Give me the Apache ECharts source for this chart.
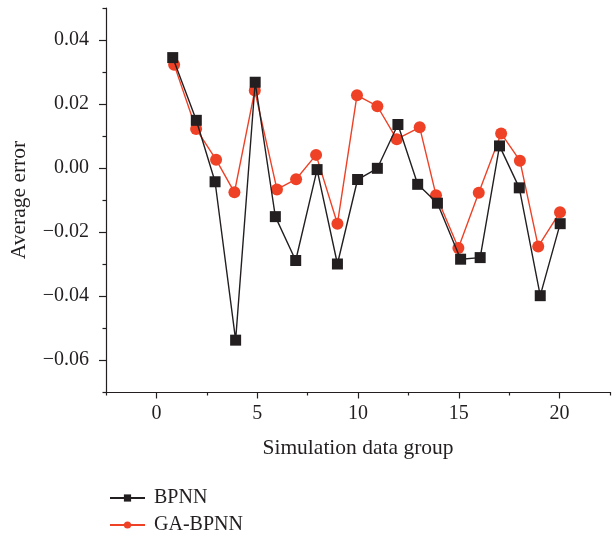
<!DOCTYPE html>
<html><head><meta charset="utf-8">
<script src="https://cdn.jsdelivr.net/npm/echarts@6/dist/echarts.min.js"></script>
<style>html,body{margin:0;padding:0;background:#fff}#c{width:613px;height:539px}</style>
</head><body><div id="c"></div>
<script>
const seriesNames = ['BPNN', 'GA-BPNN'];
const bpnnX = [0.81, 1.98, 2.91, 3.93, 4.9, 5.9, 6.91, 7.97, 8.98, 9.98, 10.96, 11.98, 12.96, 13.94, 15.09, 16.06, 17.02, 18.0, 19.04, 20.03];
const bpnnY = [0.0345, 0.0149, -0.0043, -0.0538, 0.0268, -0.0152, -0.0289, -0.0005, -0.0300, -0.0036, -0.0001, 0.0136, -0.0051, -0.0110, -0.0285, -0.0280, 0.0069, -0.0062, -0.0399, -0.0174];
const gaX = [0.88, 1.97, 2.96, 3.87, 4.88, 5.98, 6.93, 7.92, 8.98, 9.95, 10.96, 11.92, 13.06, 13.87, 14.98, 15.99, 17.1, 18.03, 18.94, 20.02];
const gaY = [0.0323, 0.0122, 0.0026, -0.0076, 0.0242, -0.0067, -0.0035, 0.0041, -0.0174, 0.0227, 0.0193, 0.0090, 0.0127, -0.0085, -0.0250, -0.0077, 0.0108, 0.0023, -0.0245, -0.0138];
const xTicks = [0, 5, 10, 15, 20];
const xMinorTicks = [-2.5, 2.5, 7.5, 12.5, 17.5, 22.5];
const yTicks = [-0.06, -0.04, -0.02, 0.00, 0.02, 0.04];
const yMinorTicks = [-0.07, -0.05, -0.03, -0.01, 0.01, 0.03, 0.05];

const zip = (xs, ys) => xs.map((x, i) => [x, ys[i]]);
const FONT = 'Liberation Serif';
const AX = '#231f20';
const RED = '#ee4126';
const XMIN = -2.5, XMAX = 22.5, YMIN = -0.07, YMAX = 0.05;
const legendBase = {
  orient: 'horizontal', left: 104, itemWidth: 35, itemHeight: 9, itemGap: 10,
  textStyle: {fontFamily: FONT, fontSize: 20, color: AX, padding: [0, 0, 0, 4]}
};
const tickStyle = {color: AX, width: 1.2};
const chart = echarts.init(document.getElementById('c'), null, {renderer: 'canvas'});
chart.setOption({
  animation: false,
  backgroundColor: '#fff',
  textStyle: {fontFamily: FONT},
  grid: {left: 104, right: -3, top: 8, bottom: 147, containLabel: false},
  legend: [
    Object.assign({}, legendBase, {top: 483, data: [seriesNames[0]]}),
    Object.assign({}, legendBase, {top: 510, data: [seriesNames[1]]})
  ],
  xAxis: [{
    type: 'value', min: XMIN, max: XMAX, interval: 2.5,
    name: 'Simulation data group', nameLocation: 'middle', nameGap: 45,
    nameTextStyle: {fontFamily: FONT, fontSize: 21.5, color: AX},
    axisLine: {onZero: false, lineStyle: {color: AX, width: 1.2}},
    axisTick: {show: true, inside: false, length: 6.5, lineStyle: tickStyle, customValues: xTicks},
    splitLine: {show: false},
    axisLabel: {fontFamily: FONT, fontSize: 20, color: AX, margin: 12,
      formatter: v => xTicks.includes(v) ? String(v) : ''}
  }, {
    type: 'value', min: XMIN, max: XMAX, position: 'bottom',
    axisLine: {show: false, onZero: false},
    axisTick: {show: true, inside: false, length: 3.5, lineStyle: tickStyle, customValues: xMinorTicks},
    axisLabel: {show: false}, splitLine: {show: false}
  }],
  yAxis: [{
    type: 'value', min: YMIN, max: YMAX, interval: 0.01,
    name: 'Average error', nameLocation: 'middle', nameGap: 76,
    nameTextStyle: {fontFamily: FONT, fontSize: 21.5, color: AX},
    axisLine: {onZero: false, lineStyle: {color: AX, width: 1.2}},
    axisTick: {show: true, inside: false, length: 7, lineStyle: tickStyle, customValues: yTicks},
    splitLine: {show: false},
    axisLabel: {fontFamily: FONT, fontSize: 20, color: AX, margin: 17,
      formatter: v => {
        if (!yTicks.some(t => Math.abs(t - v) < 1e-9)) return '';
        return (Math.round(v * 100) / 100).toFixed(2).replace('-', '\u2212');
      }}
  }, {
    type: 'value', min: YMIN, max: YMAX, position: 'left',
    axisLine: {show: false, onZero: false},
    axisTick: {show: true, inside: false, length: 3.5, lineStyle: tickStyle, customValues: yMinorTicks},
    axisLabel: {show: false}, splitLine: {show: false}
  }],
  series: [
    {
      name: seriesNames[0], type: 'line', data: zip(bpnnX, bpnnY),
      xAxisIndex: 0, yAxisIndex: 0,
      symbol: 'rect', symbolSize: 11, z: 3,
      lineStyle: {color: AX, width: 1.4},
      itemStyle: {color: AX}
    },
    {
      name: seriesNames[1], type: 'line', data: zip(gaX, gaY),
      xAxisIndex: 0, yAxisIndex: 0,
      symbol: 'circle', symbolSize: 12, z: 2,
      lineStyle: {color: RED, width: 1.4},
      itemStyle: {color: RED}
    }
  ]
});
</script></body></html>
